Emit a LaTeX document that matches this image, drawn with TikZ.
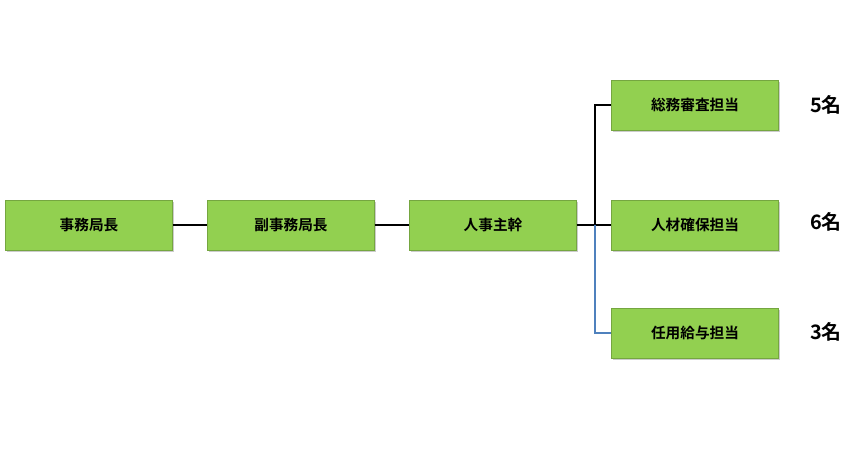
\documentclass[tikz,border=0pt]{standalone}
\usepackage{fontspec}
\setmainfont{Noto Sans CJK JP}[BoldFont={Noto Sans CJK JP Bold}]
\usepackage{tikz}
\usetikzlibrary{positioning,shadows}
\definecolor{box-green}{HTML}{92D050}
\definecolor{line-blue}{HTML}{4F81BD}

\begin{document}
\begin{tikzpicture}[
    x=0.03cm, y=-0.03cm,
    box/.style={rectangle, draw=box-green!80!black, fill=box-green, minimum width=5cm,
                minimum height=1.5cm, align=center, font=\bfseries\fontsize{12.5}{15}\selectfont,
                drop shadow={shadow xshift=1.5pt, shadow yshift=-1.5pt, opacity=0.4}},
    count/.style={font=\bfseries\fontsize{17}{20}\selectfont},
    link/.style={line width=1.5pt, black}
]
  \useasboundingbox (0,0) rectangle (859,450);

  % Main chain
  \node[box] (chief) at (89,225) {事務局長};
  \node[box] (vice) at (291,225) {副事務局長};
  \node[box] (hr) at (493,225) {人事主幹};

  % Sections
  \node[box] (general) at (695,105) {総務審査担当};
  \node[box] (talent) at (695,225) {人材確保担当};
  \node[box] (pay) at (695,333) {任用給与担当};

  % Head counts
  \node[count] (n5) at (826,105) {5名};
  \node[count] (n6) at (826,222) {6名};
  \node[count] (n3) at (826,332) {3名};

  % Connectors
  \coordinate (split) at (595,225);
  \draw[link] (chief) -- (vice);
  \draw[link] (vice) -- (hr);
  \draw[link] (hr) -- (talent);
  \draw[link] (split) |- (general);
  \draw[line-blue, line width=1.5pt] (split) |- (pay);

\end{tikzpicture}
\end{document}
